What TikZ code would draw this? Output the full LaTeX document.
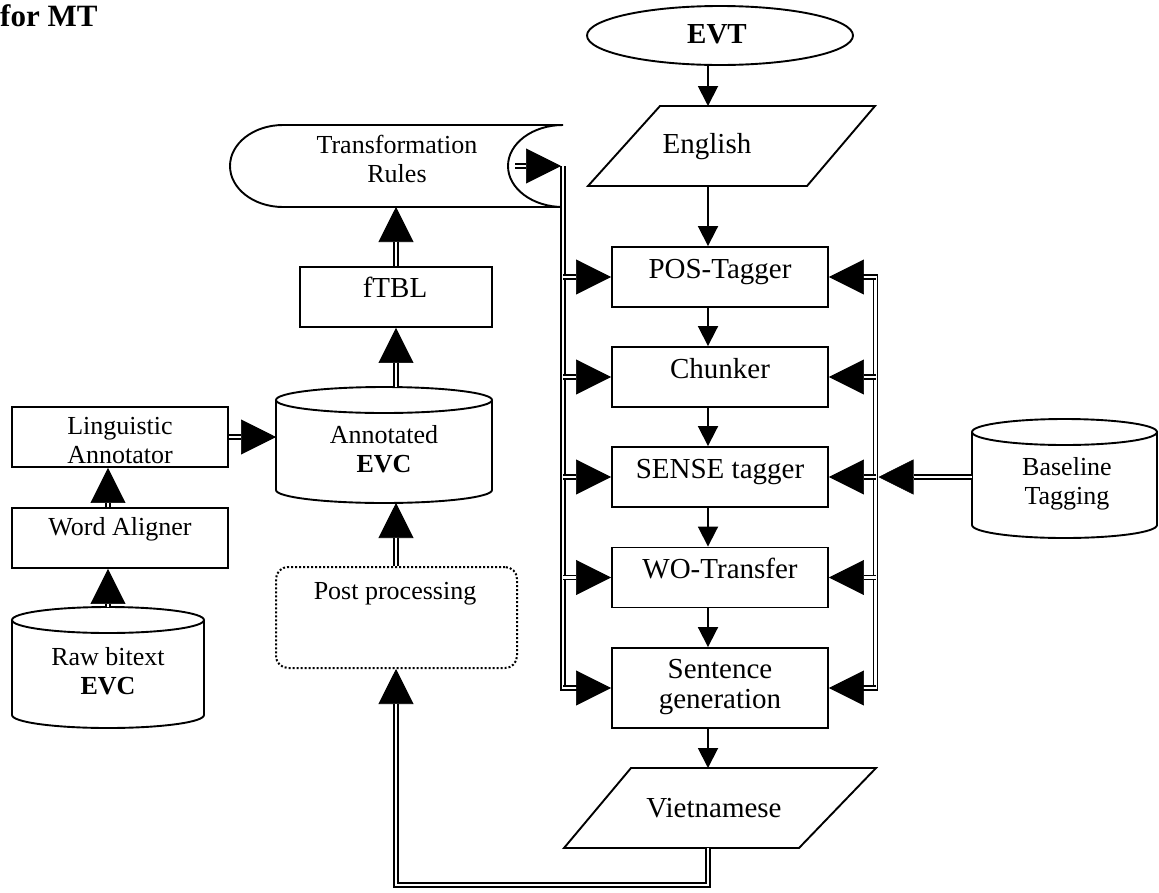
\documentclass[tikz,border=0pt]{standalone}
\usepackage{fontspec}
\setmainfont{Liberation Serif}
\usetikzlibrary{arrows.meta,shapes.geometric}
\newcommand\dblarrow[2]{%
  \draw[bigtip] (#1) -- (#2);
  \draw[dbl,shorten >=35pt] (#1) -- (#2);}
\begin{document}
\begin{tikzpicture}[x=1pt,y=1pt,
  shp/.style={line width=1.9pt},
  big/.style={inner sep=0pt,align=center,font=\fontsize{29}{30}\selectfont},
  small/.style={inner sep=0pt,align=center,font=\fontsize{26}{29}\selectfont},
  box/.style={draw,line width=1.9pt,inner sep=0pt,minimum width=216pt,minimum height=60pt},
  flow/.style={line width=1.9pt,-{Triangle[length=20pt,width=20pt]}},
  dbl/.style={double,double distance=2.2pt,line width=1.6pt},
  bigtip/.style={line width=0.6pt,-{Triangle[length=35pt,width=35pt]}}]
\useasboundingbox (0,0) rectangle (1159,-892);
\coordinate (col) at (708,0);
\coordinate (mc) at (396,0);
\coordinate (lc) at (108,0);

% title
\node[anchor=base west,inner sep=0pt,font=\bfseries\fontsize{31}{32}\selectfont] (title) at (0,-26) {for MT};

% EVT
\node[draw,ellipse,line width=1.9pt,minimum width=266pt,minimum height=59pt,inner sep=0pt] (evt) at (720,-35.5) {};
\node[big,anchor=base] (evtT) at (717,-43) {\textbf{EVT}};

% English
\draw[shp] (660,-106) -- (875,-106) -- (807,-186) -- (588,-186) -- cycle;
\node[big,anchor=base] (eng) at (707,-153) {English};
\coordinate (engT) at (708,-106);
\coordinate (engB) at (708,-186);

% main column boxes
\node[box] (pos) at (720,-277) {};
\node[box] (chk) at (720,-377) {};
\node[box] (sen) at (720,-477) {};
\node[box] (wo) at (720,-577.5) {};
\node[box,minimum height=80pt] (gen) at (720,-688) {};
\node[big,anchor=base] (posT) at (720,-278) {POS-Tagger};
\node[big,anchor=base] (chkT) at (720,-378) {Chunker};
\node[big,anchor=base] (senT) at (720,-478) {SENSE tagger};
\node[big,anchor=base] (woT) at (720,-578) {WO-Transfer};
\node[big,anchor=north] (genT) at (720,-659) {Sentence\\generation};

% Vietnamese
\draw[shp] (631,-768) -- (876,-768) -- (799,-848) -- (564,-848) -- cycle;
\node[big,anchor=base] (vie) at (714,-817) {Vietnamese};
\coordinate (vieT) at (708,-768);
\coordinate (vieB) at (708,-848);

% single flow arrows
\draw[flow] (evt.south -| col) -- (engT);
\draw[flow] (engB) -- (pos.north -| col);
\draw[flow] (pos.south -| col) -- (chk.north -| col);
\draw[flow] (chk.south -| col) -- (sen.north -| col);
\draw[flow] (sen.south -| col) -- (wo.north -| col);
\draw[flow] (wo.south -| col) -- (gen.north -| col);
\draw[flow] (gen.south -| col) -- (vieT);

% Transformation Rules (stored data)
\draw[shp] (283,-125) -- (563,-125) arc[start angle=90,end angle=270,x radius=55,y radius=41]
  -- (283,-207) arc[start angle=270,end angle=90,x radius=53,y radius=41] -- cycle;
\node[small,anchor=north] (tr) at (397,-135) {Transformation\\Rules};
\coordinate (trOut) at (515,-166);
\coordinate (trB) at (396,-207);

% left bus
\coordinate (busLt) at (563,-166);
\coordinate (busLtip) at (561,-166);
\coordinate (busLb) at (563,-688);
\dblarrow{trOut}{busLtip}
\draw[dbl] (busLt) -- (busLb) -- ++(14,0);
\dblarrow{busLb |- pos.west}{pos.west}
\dblarrow{busLb |- chk.west}{chk.west}
\dblarrow{busLb |- sen.west}{sen.west}
\dblarrow{busLb |- wo.west}{wo.west}
\dblarrow{busLb}{gen.west}

% right bus
\coordinate (busRt) at (875.5,-277);
\coordinate (busRb) at (875.5,-688);
\draw[dbl] (busRt) ++(-14,0) -- (busRt) -- (busRb) -- ++(-14,0);
\dblarrow{busRt}{pos.east}
\dblarrow{busRt |- chk.east}{chk.east}
\dblarrow{busRt |- sen.east}{sen.east}
\dblarrow{busRt |- wo.east}{wo.east}
\dblarrow{busRb}{gen.east}

% Baseline Tagging cylinder
\draw[shp] (972,-432) -- (972,-525) arc[start angle=180,end angle=360,x radius=92.5,y radius=13] -- (1157,-432);
\draw[shp] (1064.5,-432) ellipse[x radius=92.5,y radius=13];
\node[small,anchor=north] (base) at (1067,-457) {Baseline\\Tagging};
\coordinate (baseW) at (972,-477);
\coordinate (busRout) at (878.5,-477);
\dblarrow{baseW}{busRout}

% left column
\node[box] (ling) at (120,-437) {};
\node[small,anchor=north] (lingT) at (120,-417) {Linguistic\\Annotator};
\node[box] (wa) at (120,-538) {};
\node[small,anchor=base] (waT) at (120,-535) {Word Aligner};
\draw[shp] (12,-620) -- (12,-715) arc[start angle=180,end angle=360,x radius=96,y radius=13] -- (204,-620);
\draw[shp] (108,-620) ellipse[x radius=96,y radius=13];
\node[small,anchor=north] (raw) at (108,-647) {Raw bitext\\\textbf{EVC}};
\coordinate (rawTop) at (108,-607);
\dblarrow{rawTop}{wa.south -| lc}
\dblarrow{wa.north -| lc}{ling.south -| lc}
\coordinate (annW) at (276,-437);
\dblarrow{ling.east}{annW}

% Annotated EVC cylinder
\draw[shp] (276,-400) -- (276,-490) arc[start angle=180,end angle=360,x radius=108,y radius=13] -- (492,-400);
\draw[shp] (384,-400) ellipse[x radius=108,y radius=13];
\node[small,anchor=north] (ann) at (384,-425) {Annotated\\\textbf{EVC}};
\coordinate (annT) at (396,-387);
\coordinate (annB) at (396,-503);

% fTBL
\node[box,minimum width=192pt] (ftbl) at (396,-297) {};
\node[big,anchor=base] (ftblT) at (395,-297) {fTBL};
\dblarrow{annT}{ftbl.south -| mc}
\dblarrow{ftbl.north -| mc}{trB}

% Post processing
\node[draw,line width=2pt,dash pattern=on 2pt off 2pt,rounded corners=12pt,minimum width=241pt,minimum height=101pt,inner sep=0pt] (post) at (396.5,-617.5) {};
\node[small,anchor=base] (postT) at (395,-599) {Post processing};
\dblarrow{post.north -| mc}{annB}

% bottom feedback
\coordinate (botR) at (708,-885);
\coordinate (botL) at (396,-885);
\draw[bigtip] (vieB) -- (botR) -- (botL) -- (post.south -| mc);
\draw[dbl,shorten >=35pt] (vieB) -- (botR) -- (botL) -- (post.south -| mc);
\end{tikzpicture}
\end{document}
